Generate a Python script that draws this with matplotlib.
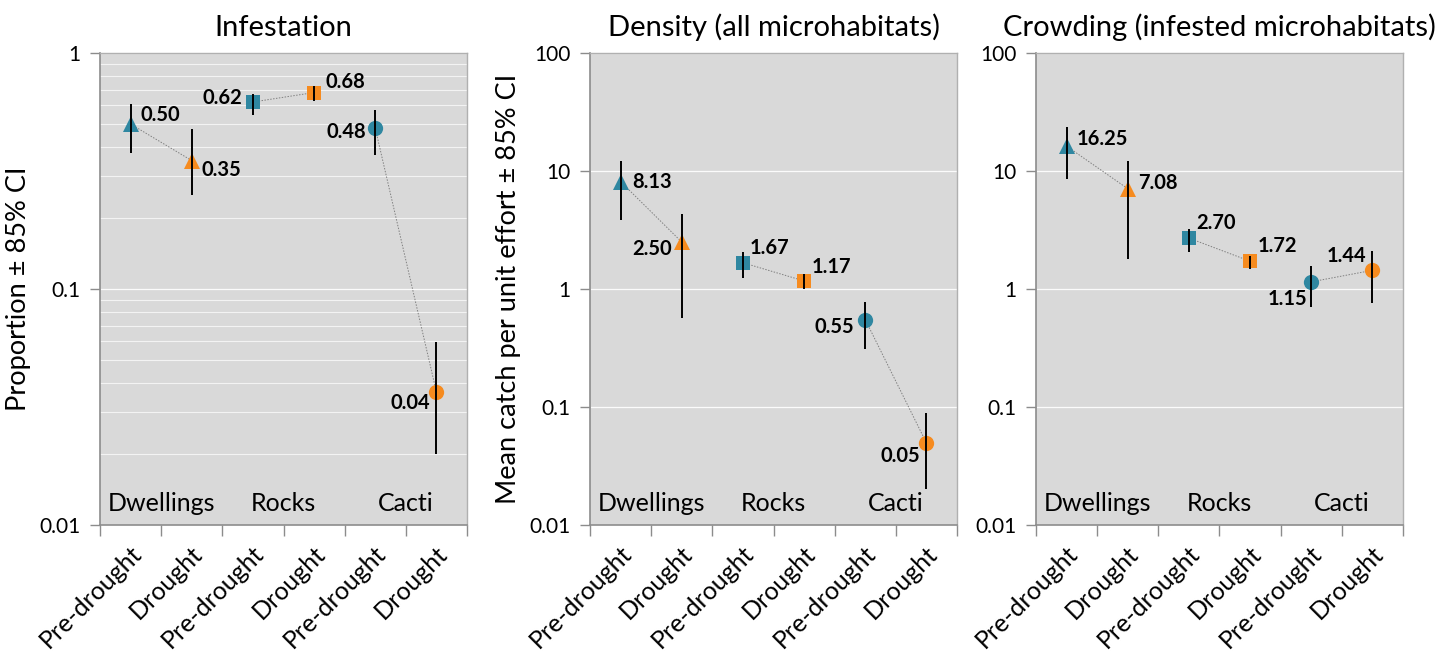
import matplotlib
matplotlib.use("Agg")
import matplotlib.pyplot as plt
import matplotlib.transforms as mtransforms
from matplotlib.ticker import FixedLocator, NullFormatter, NullLocator

plt.rcParams['font.family'] = ['Lato', 'DejaVu Sans']

# ---- data ----
periods = ["Pre-drought", "Drought", "Pre-drought", "Drought", "Pre-drought", "Drought"]
habitats = ["Dwellings", "Rocks", "Cacti"]

titles = ["Infestation", "Density (all microhabitats)", "Crowding (infested microhabitats)"]
ylabels = ["Proportion \u00b1 85% CI", "Mean catch per unit effort \u00b1 85% CI", ""]

infest = [0.50, 0.35, 0.62, 0.68, 0.48, 0.0366]
infest_lo = [0.377, 0.25, 0.546, 0.626, 0.37, 0.020]
infest_hi = [0.61, 0.476, 0.67, 0.725, 0.573, 0.0596]

density = [8.13, 2.50, 1.67, 1.17, 0.55, 0.0496]
density_lo = [3.85, 0.57, 1.24, 1.0, 0.31, 0.020]
density_hi = [12.2, 4.32, 2.05, 1.34, 0.78, 0.089]

crowding = [16.25, 7.08, 2.70, 1.72, 1.15, 1.44]
crowding_lo = [8.5, 1.8, 2.05, 1.48, 0.71, 0.76]
crowding_hi = [23.6, 12.2, 3.2, 1.9, 1.57, 2.1]

ylims = [(0.01, 1), (0.01, 100), (0.01, 100)]

# ---- style ----
TEAL = "#2F87A1"
ORANGE = "#F68B1F"
colors = [TEAL, ORANGE] * 3
markers = ["^", "^", "s", "s", "o", "o"]
msizes = [11, 11, 10.5, 10.5, 11, 11]

# label offsets in pixels (dx, dy) and horizontal alignment
label_pos = [
    [(10, 9, 'left'), (10, -9, 'left'), (-11, 4, 'right'), (11, 11, 'left'), (-9, -4, 'right'), (-6, -11, 'right')],
    [(12, 0, 'left'), (-10, -7, 'right'), (7, 15, 'left'), (8, 14, 'left'), (-11, -7, 'right'), (-6, -13, 'right')],
    [(10, 7, 'left'), (10, 6, 'left'), (7, 15, 'left'), (8, 15, 'left'), (-4, -17, 'right'), (-6, 14, 'right')],
]

W, H = 1449, 657
fig = plt.figure(figsize=(W / 100, H / 100), dpi=100)
lefts = [100, 590, 1036]
ax_w = 367
ax_top, ax_bot = 53, 525

panels = [(infest, infest_lo, infest_hi), (density, density_lo, density_hi), (crowding, crowding_lo, crowding_hi)]

for p, (vals, lo, hi) in enumerate(panels):
    ax = fig.add_axes([lefts[p] / W, (H - ax_bot) / H, ax_w / W, (ax_bot - ax_top) / H])
    ax.set_facecolor("#D9D9D9")
    ax.set_yscale('log')
    ax.set_ylim(*ylims[p])
    ax.set_xlim(-0.5, 5.5)
    x = list(range(len(vals)))

    # gridlines
    ymin, ymax = ylims[p]
    majors = [10 ** k for k in range(-2, 3) if ymin <= 10 ** k <= ymax]
    ax.yaxis.set_major_locator(FixedLocator(majors))
    ax.set_yticklabels([f"{m:g}" for m in majors])
    if p == 0:
        minors = [m * d for d in (0.01, 0.1) for m in range(2, 10)]
        ax.yaxis.set_minor_locator(FixedLocator(minors))
        ax.grid(which='minor', axis='y', color='white', lw=0.8, alpha=0.7)
    else:
        ax.yaxis.set_minor_locator(NullLocator())
    ax.yaxis.set_minor_formatter(NullFormatter())
    ax.grid(which='major', axis='y', color='white', lw=0.9, alpha=0.9)
    ax.set_axisbelow(True)

    # connecting dotted lines
    for a in (0, 2, 4):
        ax.plot([x[a], x[a + 1]], [vals[a], vals[a + 1]], ls=(0, (1.5, 1.5)), color='#808080', lw=0.7, zorder=2)

    # markers
    for i in x:
        ax.plot(x[i], vals[i], marker=markers[i], color=colors[i], ms=msizes[i], ls='none', zorder=3,
                markeredgewidth=0)
    # error bars
    for i in x:
        ax.plot([x[i], x[i]], [lo[i], hi[i]], color='black', lw=1.4, zorder=4, solid_capstyle='butt')

    # data labels
    for i in x:
        dx, dy, ha = label_pos[p][i]
        ax.annotate(f"{vals[i]:.2f}", (x[i], vals[i]), xytext=(dx, dy), textcoords='offset pixels',
                    ha=ha, va='center', fontsize=14.5, fontweight='bold', color='black', zorder=5)

    # habitat labels inside axes
    for j, hname in enumerate(habitats):
        ax.text(2 * j + 0.5, 0.045, hname, transform=ax.get_xaxis_transform(), ha='center', va='center',
                fontsize=18, color='black')

    # x ticks
    ax.set_xticks(x)
    ax.set_xticklabels(periods, rotation=45, ha='right', rotation_mode='anchor', fontsize=18)
    ax.tick_params(axis='x', which='major', length=0, pad=12)
    shift = mtransforms.ScaledTranslation(-1 / 100, 0, fig.dpi_scale_trans)
    for lbl in ax.get_xticklabels():
        lbl.set_transform(lbl.get_transform() + shift)
    ax.xaxis.set_minor_locator(FixedLocator([k - 0.5 for k in range(7)]))
    ax.tick_params(axis='x', which='minor', length=8, color='#8C8C8C', width=1)
    ax.tick_params(axis='y', which='major', length=7, color='#8C8C8C', width=1, labelsize=15, pad=7)
    ax.tick_params(axis='y', which='minor', length=0)

    for s in ('left', 'bottom'):
        ax.spines[s].set_color('#8C8C8C')
        ax.spines[s].set_linewidth(1.2)
    for s in ('top', 'right'):
        ax.spines[s].set_color('#B0B0B0')
        ax.spines[s].set_linewidth(1.0)

    ax.set_title(titles[p], fontsize=21, pad=12)
    if ylabels[p]:
        ax.set_ylabel(ylabels[p], fontsize=19.5, labelpad=6)

fig.savefig("out.png", dpi=100)
